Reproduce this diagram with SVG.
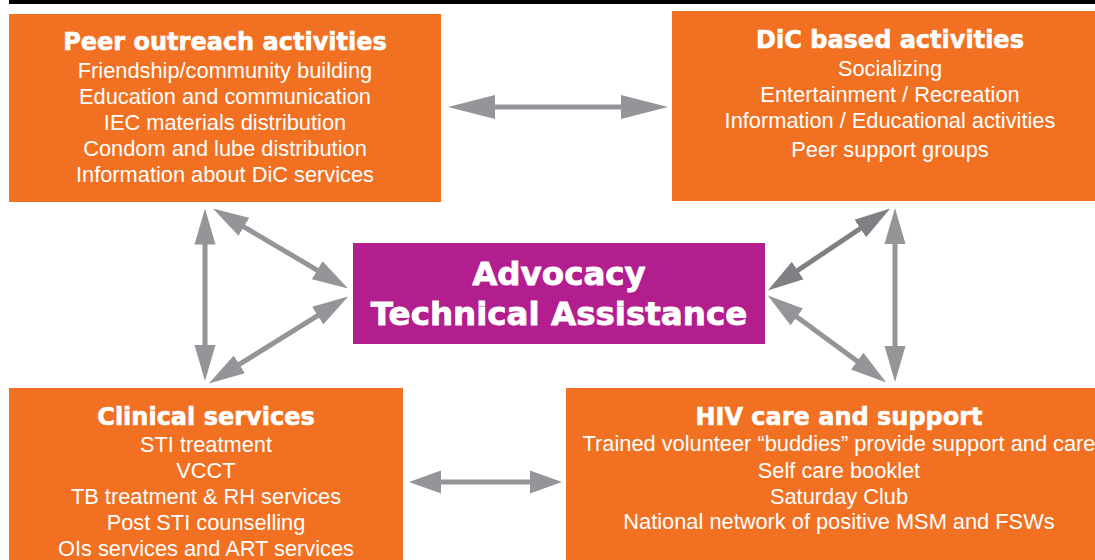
<svg xmlns="http://www.w3.org/2000/svg" width="1095" height="560" viewBox="0 0 1095 560">
  <style>
    .box { fill: #F17022; }
    .center { fill: #B31E8E; }
    .title { font-family: "DejaVu Sans", sans-serif; font-weight: bold; font-size: 24px; fill: #ffffff; stroke: #ffffff; stroke-width: 0.6px; text-anchor: middle; }
    .body { font-family: "Liberation Sans", Arial, sans-serif; font-size: 21.8px; fill: #ffffff; text-anchor: middle; }
    .ctitle { font-family: "DejaVu Sans", sans-serif; font-weight: bold; font-size: 32.5px; fill: #ffffff; stroke: #ffffff; stroke-width: 0.8px; text-anchor: middle; }
    .conn { fill: none; stroke: #949599; stroke-width: 5; }
    .dark { stroke: #7F8083; }
  </style>
  <defs>
    <marker id="hLong" markerUnits="userSpaceOnUse" markerWidth="50" markerHeight="26" refX="1" refY="12" orient="auto-start-reverse" viewBox="0 0 50 24">
      <path d="M0,0 L47,12 L0,24 z" fill="#949599"/>
    </marker>
    <marker id="hShort" markerUnits="userSpaceOnUse" markerWidth="34" markerHeight="24" refX="1" refY="11.5" orient="auto-start-reverse" viewBox="0 0 34 23">
      <path d="M0,0 L32,11.5 L0,23 z" fill="#949599"/>
    </marker>
    <marker id="hMid" markerUnits="userSpaceOnUse" markerWidth="38" markerHeight="22" refX="1" refY="10.5" orient="auto-start-reverse" viewBox="0 0 38 21">
      <path d="M0,0 L36,10.5 L0,21 z" fill="#949599"/>
    </marker>
    <marker id="hMidDark" markerUnits="userSpaceOnUse" markerWidth="38" markerHeight="22" refX="1" refY="10.5" orient="auto-start-reverse" viewBox="0 0 38 21">
      <path d="M0,0 L36,10.5 L0,21 z" fill="#7F8083"/>
    </marker>
  </defs>

  <rect x="9" y="0" width="1086" height="4" fill="#000000"/>

  <g id="connectors">
    <line class="conn" x1="494" y1="107" x2="622" y2="107" marker-start="url(#hLong)" marker-end="url(#hLong)"/>
    <line class="conn" x1="440" y1="482" x2="531" y2="482" marker-start="url(#hShort)" marker-end="url(#hShort)"/>
    <line class="conn" x1="205" y1="243.5" x2="205" y2="346" marker-start="url(#hMid)" marker-end="url(#hMid)"/>
    <line class="conn" x1="895" y1="243" x2="895" y2="347" marker-start="url(#hMid)" marker-end="url(#hMid)"/>
    <line class="conn" x1="243" y1="226.3" x2="318" y2="270.7" marker-start="url(#hMid)" marker-end="url(#hMid)"/>
    <line class="conn" x1="318.5" y1="315.1" x2="238.5" y2="364.9" marker-start="url(#hMid)" marker-end="url(#hMid)"/>
    <line class="conn dark" x1="861.1" y1="228" x2="796.9" y2="271" marker-start="url(#hMidDark)" marker-end="url(#hMidDark)"/>
    <line class="conn" x1="796" y1="316.3" x2="858" y2="361.7" marker-start="url(#hMid)" marker-end="url(#hMid)"/>
  </g>

  <g id="peer-outreach">
    <rect class="box" x="9" y="14" width="432" height="188"/>
    <text class="title" x="225" y="50">Peer outreach activities</text>
    <text class="body" x="225" y="77.5">Friendship/community building</text>
    <text class="body" x="225" y="103.5">Education and communication</text>
    <text class="body" x="225" y="129.5">IEC materials distribution</text>
    <text class="body" x="225" y="155.5">Condom and lube distribution</text>
    <text class="body" x="225" y="181.5">Information about DiC services</text>
  </g>

  <g id="dic-based">
    <rect class="box" x="672" y="11" width="423" height="190"/>
    <text class="title" x="890" y="48">DiC based activities</text>
    <text class="body" x="890" y="76">Socializing</text>
    <text class="body" x="890" y="102">Entertainment / Recreation</text>
    <text class="body" x="890" y="128">Information / Educational activities</text>
    <text class="body" x="890" y="157">Peer support groups</text>
  </g>

  <g id="advocacy">
    <rect class="center" x="353" y="243" width="412" height="101"/>
    <text class="ctitle" x="559" y="284.5">Advocacy</text>
    <text class="ctitle" x="559" y="325">Technical Assistance</text>
  </g>

  <g id="clinical">
    <rect class="box" x="9" y="388" width="394" height="172"/>
    <text class="title" x="206" y="424.5">Clinical services</text>
    <text class="body" x="206" y="451.5">STI treatment</text>
    <text class="body" x="206" y="477.5">VCCT</text>
    <text class="body" x="206" y="503.5">TB treatment &amp; RH services</text>
    <text class="body" x="206" y="529.5">Post STI counselling</text>
    <text class="body" x="206" y="555.5">OIs services and ART services</text>
  </g>

  <g id="hiv-care">
    <rect class="box" x="566" y="388" width="529" height="172"/>
    <text class="title" x="839" y="424.5">HIV care and support</text>
    <text class="body" x="839" y="451">Trained volunteer “buddies” provide support and care</text>
    <text class="body" x="839" y="477.5">Self care booklet</text>
    <text class="body" x="839" y="503.5">Saturday Club</text>
    <text class="body" x="839" y="529">National network of positive MSM and FSWs</text>
  </g>
</svg>
